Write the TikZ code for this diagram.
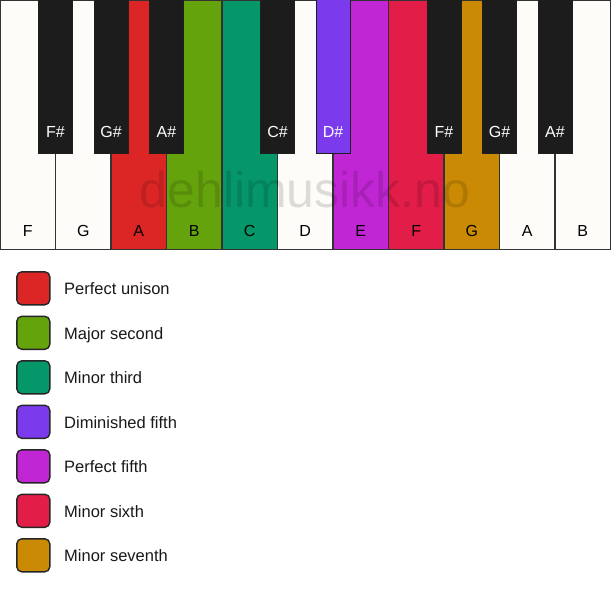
\documentclass[tikz,border=0pt]{standalone}
\usepackage{fontspec}
\setmainfont{Liberation Sans}
\definecolor{keywhite}{HTML}{FDFCF9}
\definecolor{keyblack}{HTML}{1C1C1C}
\definecolor{edge}{HTML}{333333}
\definecolor{cRed}{HTML}{DC2626}
\definecolor{cGreen}{HTML}{65A30D}
\definecolor{cTeal}{HTML}{059669}
\definecolor{cPurple}{HTML}{7C3AED}
\definecolor{cMagenta}{HTML}{C026D3}
\definecolor{cCrimson}{HTML}{E11D48}
\definecolor{cOchre}{HTML}{CA8A04}
\tikzset{
  whitekey/.style={draw=edge, line width=1.4bp, anchor=north west, minimum width=55.5bp, minimum height=249.5bp, inner sep=0pt, outer sep=0pt},
  blackkey/.style={draw=edge!60!black, line width=1bp, anchor=north, minimum width=34bp, minimum height=153bp, inner sep=0pt, outer sep=0pt},
  wlabel/.style={font=\fontsize{16bp}{18bp}\selectfont, text=black, anchor=base},
  blabel/.style={font=\fontsize{16bp}{18bp}\selectfont, text=white, anchor=base},
  legbox/.style={draw=black!85, line width=1.4bp, rounded corners=5bp, minimum width=33bp, minimum height=33bp, inner sep=0pt},
  legtext/.style={font=\fontsize{16.5bp}{19bp}\selectfont, text=black!90, anchor=base west, inner sep=0pt},
  wmark/.style={font=\fontsize{50bp}{54bp}\selectfont, text=black, opacity=0.13}
}
\begin{document}
\begin{tikzpicture}[x=1bp,y=-1bp]
\useasboundingbox (0,0) rectangle (611,594);
\fill[white] (0,0) rectangle (611,594);
% white keys
\foreach \i/\n/\c in {0/F/keywhite,1/G/keywhite,2/A/cRed,3/B/cGreen,4/C/cTeal,5/D/keywhite,6/E/cMagenta,7/F/cCrimson,8/G/cOchre,9/A/keywhite,10/B/keywhite}{
  \node[whitekey, fill=\c] (w\i) at ({55.5*\i},0) {};
  \node[wlabel] (wl\i) at ({55.5*\i+27.75},236) {\n};
}
% watermark
\node[wmark, anchor=base] (wm) at (305,207) {dehlimusikk.no};
% black keys
\foreach \i/\n/\c in {1/F\#/keyblack,2/G\#/keyblack,3/A\#/keyblack,5/C\#/keyblack,6/D\#/cPurple,8/F\#/keyblack,9/G\#/keyblack,10/A\#/keyblack}{
  \node[blackkey, fill=\c] (b\i) at ({55.5*\i},0) {};
  \node[blabel] (bl\i) at ({55.5*\i},138) {\n};
}
% legend
\foreach \k/\c/\t in {0/cRed/Perfect unison,1/cGreen/Major second,2/cTeal/Minor third,3/cPurple/Diminished fifth,4/cMagenta/Perfect fifth,5/cCrimson/Minor sixth,6/cOchre/Minor seventh}{
  \node[legbox, fill=\c] (lb\k) at (33.3,{288.3+44.5*\k}) {};
  \node[legtext] (lt\k) at (64,{294.5+44.5*\k}) {\t};
}
\end{tikzpicture}
\end{document}
